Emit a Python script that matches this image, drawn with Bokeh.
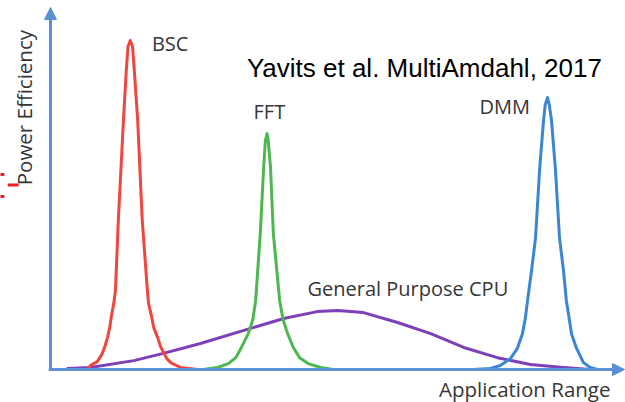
import math
from bokeh.plotting import figure
from bokeh.models import Range1d, Arrow, NormalHead
from bokeh.core.properties import value
from bokeh.embed import file_html
from bokeh.resources import INLINE

# ---- data (application range 0-100, power efficiency 0-100) ----
bsc_x = [6.5, 7.0, 8.2, 9.0, 9.6, 10.0, 10.4, 10.7, 11.1, 11.4, 11.9, 12.8, 13.3, 13.6, 14.0, 14.4, 14.7, 15.3, 16.1, 17.0, 17.2, 17.7, 18.1, 18.8, 19.3, 20.4, 21.1, 22.8, 25.8]
bsc_y = [0, 1.2, 2.4, 4.5, 7.3, 9.7, 12.8, 16.4, 20.1, 24.0, 45.3, 75.7, 90.9, 98.2, 100, 98.2, 90.9, 75.7, 45.3, 24.0, 20.1, 16.4, 12.8, 9.7, 7.0, 3.3, 2.1, 0.6, 0]

fft_x = [26.8, 29.3, 31.2, 32.5, 33.5, 34.7, 35.5, 36.0, 36.8, 37.4, 37.7, 38.0, 38.2, 38.6, 39.1, 40.2, 40.8, 41.6, 42.6, 43.7, 45.2, 47.4, 49.6]
fft_y = [0, 0.6, 1.8, 3.6, 6.7, 10.9, 15.2, 21.0, 41.3, 61.4, 69.6, 71.7, 69.6, 61.4, 41.3, 21.0, 15.2, 10.9, 6.7, 3.6, 1.8, 0.6, 0]

dmm_x = [74.2, 77.2, 78.9, 80.7, 81.9, 82.8, 83.3, 83.7, 84.4, 85.1, 85.8, 86.5, 86.8, 87.2, 87.5, 87.9, 88.6, 89.3, 90.0, 90.5, 91.0, 91.4, 92.3, 93.5, 94.7, 96.0]
dmm_y = [0, 0.3, 1.2, 3.3, 6.4, 10.9, 15.5, 21.0, 30.1, 40.1, 60.5, 75.7, 80.5, 82.7, 80.5, 75.7, 60.5, 40.1, 30.1, 21.0, 15.5, 10.9, 6.4, 2.1, 0.6, 0]

cpu_x = [3.0, 7.0, 14.6, 19.8, 26.3, 35.1, 40.9, 46.8, 50.4, 54.9, 60.9, 66.7, 72.5, 78.4, 84.2, 90.0, 94.7]
cpu_y = [0.3, 0.6, 2.7, 4.9, 7.9, 12.5, 15.5, 17.6, 17.9, 17.3, 14.3, 10.9, 6.7, 3.6, 1.5, 0.6, 0]

curve_labels = ["BSC", "FFT", "DMM", "General Purpose CPU"]
x_title = "Application Range"
y_title = "Power Efficiency"
citation = "Yavits et al. MultiAmdahl, 2017"

# ---- styles / positions ----
RED, GREEN, BLUE, PURPLE = "#f0463e", "#4cb84f", "#3b86d2", "#7d40b8"
AXIS = "#5b8fd4"
TXT = "#363636"

p = figure(width=625, height=402, output_backend="svg", toolbar_location=None,
           x_range=Range1d(-8.77, 100.88), y_range=Range1d(-10.03, 112.16),
           x_axis_location=None, y_axis_location=None,
           min_border=0, outline_line_color=None)
p.grid.visible = False
p.background_fill_color = "white"
p.border_fill_color = "white"

# axes drawn as arrows
p.add_layout(Arrow(end=NormalHead(size=12, fill_color=AXIS, line_color=AXIS, line_width=1),
                   x_start=0, y_start=-0.4, x_end=0, y_end=110.0,
                   line_color=AXIS, line_width=3))
p.add_layout(Arrow(end=NormalHead(size=12, fill_color=AXIS, line_color=AXIS, line_width=1),
                   x_start=-0.3, y_start=0, x_end=100.7, y_end=0,
                   line_color=AXIS, line_width=3))

p.line(cpu_x, cpu_y, line_color=PURPLE, line_width=3, line_join="round", line_cap="round")
p.line(bsc_x, bsc_y, line_color=RED, line_width=3, line_join="round", line_cap="round")
p.line(fft_x, fft_y, line_color=GREEN, line_width=3, line_join="round", line_cap="round")
p.line(dmm_x, dmm_y, line_color=BLUE, line_width=3, line_join="round", line_cap="round")

# small red marks at the left edge (cropped slide artefact)
p.segment(x0=[-8.9, -7.5, -8.9], y0=[59.3, 56.1, 52.6],
          x1=[-8.1, -5.6, -8.1], y1=[59.3, 56.1, 52.6],
          line_color="#ee1c1c", line_width=3)

# curve labels
p.text(x=[21.0, 38.4, 79.7, 62.7], y=[99.2, 78.4, 79.8, 24.5], text=curve_labels,
       text_font=value("Open Sans"), text_font_size="20px", text_color=TXT,
       text_align="center", text_baseline="middle")

# axis titles
p.text(x=[83.2], y=[-5.8], text=[x_title],
       text_font=value("Open Sans"), text_font_size="20.5px", text_color=TXT,
       text_align="center", text_baseline="middle")
p.text(x=[-4.56], y=[79.6], text=[y_title], angle=math.pi / 2,
       text_font=value("Open Sans"), text_font_size="20.5px", text_color=TXT,
       text_align="center", text_baseline="middle")

# citation
p.text(x=[65.6], y=[91.6], text=[citation],
       text_font=value("Liberation Sans"), text_font_size="26px", text_color="black",
       text_align="center", text_baseline="middle")

open("out.html", "w").write(file_html(p, INLINE))
